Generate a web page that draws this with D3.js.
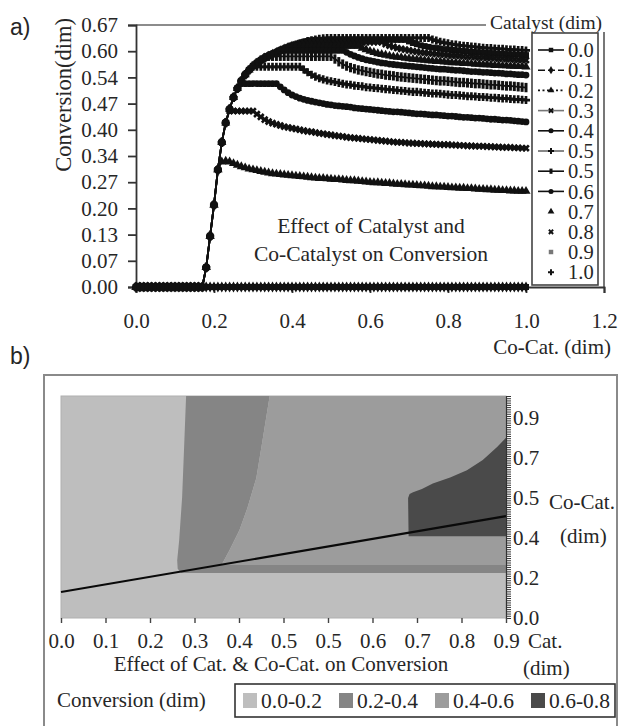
<!DOCTYPE html>
<html>
<head>
<meta charset="utf-8">
<script src="https://cdn.jsdelivr.net/npm/d3@7"></script>
<style>
  body { margin: 0; background: #fff; }
  svg { display: block; }
  svg text { font-family: "Liberation Serif", "Times New Roman", Times, "DejaVu Serif", serif; fill: #262626; }
  svg text.sans { font-family: "Liberation Sans", Arial, sans-serif; }
</style>
</head>
<body>
<svg id="chart" width="620" height="726"></svg>
<script>
// ---------- panel a) conversion vs co-catalyst, one series per catalyst level ----------
const coCat = [
  0,0.01,0.02,0.03,0.04,0.05,0.06,0.07,0.08,0.09,
  0.1,0.11,0.12,0.13,0.14,0.15,0.16,0.17,0.18,0.19,
  0.2,0.21,0.22,0.23,0.24,0.25,0.26,0.27,0.28,0.29,
  0.3,0.31,0.32,0.33,0.34,0.35,0.36,0.37,0.38,0.39,
  0.4,0.41,0.42,0.43,0.44,0.45,0.46,0.47,0.48,0.49,
  0.5,0.51,0.52,0.53,0.54,0.55,0.56,0.57,0.58,0.59,
  0.6,0.61,0.62,0.63,0.64,0.65,0.66,0.67,0.68,0.69,
  0.7,0.71,0.72,0.73,0.74,0.75,0.76,0.77,0.78,0.79,
  0.8,0.81,0.82,0.83,0.84,0.85,0.86,0.87,0.88,0.89,
  0.9,0.91,0.92,0.93,0.94,0.95,0.96,0.97,0.98,0.99,
  1
];

const catalystLabels = ["0.0","0.1","0.2","0.3","0.4","0.5","0.5","0.6","0.7","0.8","0.9","1.0"];

const conv00 = [
  0,0,0,0,0,0,0,0,0,0, 0,0,0,0,0,0,0,0,0,0, 0,0,0,0,0,0,0,0,0,0, 0,0,0,0,0,0,0,0,0,0,
  0,0,0,0,0,0,0,0,0,0, 0,0,0,0,0,0,0,0,0,0, 0,0,0,0,0,0,0,0,0,0, 0,0,0,0,0,0,0,0,0,0,
  0,0,0,0,0,0,0,0,0,0, 0,0,0,0,0,0,0,0,0,0, 0
];
const conv01 = [
  0,0,0,0,0,0,0,0,0,0, 0,0,0,0,0,0,0,0,0,0, 0,0,0,0,0,0,0,0,0,0, 0,0,0,0,0,0,0,0,0,0,
  0,0,0,0,0,0,0,0,0,0, 0,0,0,0,0,0,0,0,0,0, 0,0,0,0,0,0,0,0,0,0, 0,0,0,0,0,0,0,0,0,0,
  0,0,0,0,0,0,0,0,0,0, 0,0,0,0,0,0,0,0,0,0, 0
];
const conv02 = [
  0,0,0,0,0,0,0,0,0,0,
  0,0,0,0,0,0,0,0,0.05,0.13,
  0.21,0.30,0.32,0.322,0.32,0.316,0.312,0.308,0.305,0.302,
  0.300,0.298,0.296,0.294,0.292,0.290,0.289,0.288,0.287,0.286,
  0.285,0.284,0.283,0.282,0.281,0.280,0.279,0.278,0.278,0.277,
  0.276,0.275,0.275,0.274,0.273,0.272,0.272,0.271,0.270,0.269,
  0.268,0.267,0.267,0.266,0.265,0.265,0.264,0.263,0.263,0.262,
  0.261,0.261,0.260,0.259,0.259,0.258,0.257,0.257,0.256,0.256,
  0.255,0.254,0.254,0.253,0.253,0.252,0.252,0.251,0.250,0.250,
  0.249,0.249,0.248,0.248,0.247,0.247,0.246,0.246,0.245,0.245,
  0.245
];
const conv03 = [
  0,0,0,0,0,0,0,0,0,0,
  0,0,0,0,0,0,0,0,0.05,0.13,
  0.21,0.30,0.37,0.42,0.45,0.45,0.45,0.45,0.45,0.45,
  0.45,0.442,0.435,0.428,0.423,0.419,0.416,0.413,0.410,0.408,
  0.406,0.404,0.402,0.400,0.398,0.397,0.395,0.393,0.392,0.390,
  0.389,0.387,0.386,0.385,0.383,0.382,0.381,0.380,0.379,0.378,
  0.377,0.376,0.375,0.374,0.373,0.372,0.371,0.370,0.370,0.369,
  0.368,0.368,0.367,0.367,0.366,0.366,0.365,0.365,0.364,0.364,
  0.364,0.363,0.363,0.362,0.362,0.361,0.361,0.360,0.360,0.360,
  0.359,0.359,0.358,0.358,0.357,0.357,0.357,0.356,0.356,0.355,
  0.355
];
const conv04 = [
  0,0,0,0,0,0,0,0,0,0,
  0,0,0,0,0,0,0,0,0.05,0.13,
  0.21,0.30,0.37,0.42,0.455,0.485,0.508,0.52,0.52,0.52,
  0.52,0.52,0.52,0.52,0.52,0.52,0.52,0.512,0.504,0.497,
  0.491,0.487,0.483,0.480,0.477,0.475,0.473,0.471,0.469,0.467,
  0.466,0.464,0.463,0.462,0.461,0.460,0.458,0.457,0.456,0.455,
  0.454,0.453,0.452,0.451,0.450,0.449,0.448,0.448,0.447,0.446,
  0.445,0.444,0.443,0.443,0.442,0.441,0.440,0.440,0.439,0.438,
  0.437,0.437,0.436,0.435,0.434,0.434,0.433,0.432,0.432,0.431,
  0.430,0.429,0.429,0.428,0.427,0.427,0.426,0.425,0.424,0.423,
  0.422
];
const conv05 = [
  0,0,0,0,0,0,0,0,0,0,
  0,0,0,0,0,0,0,0,0.05,0.13,
  0.21,0.30,0.37,0.42,0.455,0.485,0.508,0.527,0.543,0.555,
  0.563,0.563,0.563,0.563,0.563,0.563,0.563,0.563,0.563,0.563,
  0.563,0.563,0.563,0.556,0.549,0.543,0.538,0.534,0.531,0.528,
  0.526,0.524,0.522,0.520,0.518,0.517,0.515,0.514,0.513,0.511,
  0.510,0.509,0.508,0.507,0.506,0.505,0.504,0.503,0.502,0.501,
  0.500,0.499,0.499,0.498,0.497,0.496,0.495,0.495,0.494,0.493,
  0.492,0.491,0.491,0.490,0.489,0.488,0.488,0.487,0.486,0.486,
  0.485,0.484,0.484,0.483,0.482,0.482,0.481,0.480,0.480,0.479,
  0.478
];
const conv05b = [
  0,0,0,0,0,0,0,0,0,0,
  0,0,0,0,0,0,0,0,0.05,0.13,
  0.21,0.30,0.37,0.42,0.455,0.485,0.508,0.527,0.543,0.555,
  0.565,0.573,0.58,0.586,0.59,0.59,0.59,0.59,0.59,0.59,
  0.59,0.59,0.59,0.59,0.59,0.59,0.59,0.59,0.59,0.59,
  0.59,0.583,0.576,0.570,0.565,0.561,0.558,0.555,0.553,0.551,
  0.549,0.547,0.545,0.544,0.542,0.541,0.540,0.538,0.537,0.536,
  0.535,0.534,0.533,0.532,0.531,0.530,0.529,0.528,0.527,0.527,
  0.526,0.525,0.524,0.523,0.523,0.522,0.521,0.520,0.520,0.519,
  0.518,0.517,0.517,0.516,0.515,0.514,0.514,0.513,0.512,0.511,
  0.510
];
const conv06 = [
  0,0,0,0,0,0,0,0,0,0,
  0,0,0,0,0,0,0,0,0.05,0.13,
  0.21,0.30,0.37,0.42,0.455,0.485,0.508,0.527,0.543,0.555,
  0.565,0.573,0.58,0.586,0.591,0.596,0.600,0.605,0.605,0.605,
  0.605,0.605,0.605,0.605,0.605,0.605,0.605,0.605,0.605,0.605,
  0.605,0.605,0.605,0.605,0.600,0.595,0.591,0.587,0.584,0.581,
  0.579,0.577,0.575,0.573,0.572,0.570,0.569,0.568,0.567,0.566,
  0.565,0.564,0.563,0.562,0.561,0.560,0.559,0.558,0.557,0.557,
  0.556,0.555,0.554,0.554,0.553,0.552,0.551,0.551,0.550,0.549,
  0.549,0.548,0.547,0.547,0.546,0.545,0.545,0.544,0.543,0.543,
  0.542
];
const conv07 = [
  0,0,0,0,0,0,0,0,0,0,
  0,0,0,0,0,0,0,0,0.05,0.13,
  0.21,0.30,0.37,0.42,0.455,0.485,0.508,0.527,0.543,0.555,
  0.565,0.573,0.58,0.586,0.591,0.596,0.600,0.605,0.609,0.613,
  0.616,0.616,0.616,0.616,0.616,0.616,0.616,0.616,0.616,0.616,
  0.616,0.616,0.616,0.616,0.616,0.616,0.616,0.616,0.611,0.607,
  0.603,0.600,0.597,0.595,0.593,0.591,0.589,0.588,0.587,0.585,
  0.584,0.583,0.582,0.581,0.580,0.579,0.578,0.577,0.577,0.576,
  0.575,0.574,0.574,0.573,0.572,0.572,0.571,0.570,0.570,0.569,
  0.569,0.568,0.567,0.567,0.566,0.566,0.565,0.565,0.564,0.564,
  0.563
];
const conv08 = [
  0,0,0,0,0,0,0,0,0,0,
  0,0,0,0,0,0,0,0,0.05,0.13,
  0.21,0.30,0.37,0.42,0.455,0.485,0.508,0.527,0.543,0.555,
  0.565,0.573,0.58,0.586,0.591,0.596,0.600,0.605,0.609,0.613,
  0.617,0.620,0.623,0.626,0.626,0.626,0.626,0.626,0.626,0.626,
  0.626,0.626,0.626,0.626,0.626,0.626,0.626,0.626,0.626,0.626,
  0.626,0.626,0.626,0.626,0.621,0.617,0.614,0.611,0.609,0.607,
  0.605,0.603,0.602,0.600,0.599,0.598,0.597,0.596,0.595,0.594,
  0.593,0.592,0.592,0.591,0.590,0.589,0.589,0.588,0.587,0.587,
  0.586,0.586,0.585,0.584,0.584,0.583,0.583,0.582,0.581,0.581,
  0.580
];
const conv09 = [
  0,0,0,0,0,0,0,0,0,0,
  0,0,0,0,0,0,0,0,0.05,0.13,
  0.21,0.30,0.37,0.42,0.455,0.485,0.508,0.527,0.543,0.555,
  0.565,0.573,0.58,0.586,0.591,0.596,0.600,0.605,0.609,0.613,
  0.617,0.620,0.623,0.626,0.629,0.631,0.632,0.632,0.632,0.632,
  0.632,0.632,0.632,0.632,0.632,0.632,0.632,0.632,0.632,0.632,
  0.632,0.632,0.632,0.632,0.632,0.632,0.632,0.632,0.632,0.632,
  0.628,0.624,0.621,0.618,0.616,0.614,0.612,0.611,0.609,0.608,
  0.607,0.606,0.605,0.604,0.603,0.602,0.601,0.600,0.600,0.599,
  0.598,0.598,0.597,0.596,0.596,0.595,0.595,0.594,0.594,0.593,
  0.593
];
const conv10 = [
  0,0,0,0,0,0,0,0,0,0,
  0,0,0,0,0,0,0,0,0.05,0.13,
  0.21,0.30,0.37,0.42,0.455,0.485,0.508,0.527,0.543,0.555,
  0.565,0.573,0.58,0.586,0.591,0.596,0.600,0.605,0.609,0.613,
  0.617,0.620,0.623,0.626,0.629,0.631,0.633,0.635,0.636,0.637,
  0.637,0.637,0.637,0.637,0.637,0.637,0.637,0.637,0.637,0.637,
  0.637,0.637,0.637,0.637,0.637,0.637,0.637,0.637,0.637,0.637,
  0.637,0.637,0.637,0.637,0.637,0.637,0.633,0.630,0.627,0.625,
  0.623,0.621,0.620,0.618,0.617,0.616,0.615,0.614,0.613,0.612,
  0.611,0.611,0.610,0.609,0.609,0.608,0.607,0.607,0.606,0.606,
  0.605
];

const conversionSeries = [conv00, conv01, conv02, conv03, conv04, conv05, conv05b, conv06, conv07, conv08, conv09, conv10];

const convTickValues = [0, 0.067, 0.134, 0.201, 0.268, 0.335, 0.402, 0.469, 0.536, 0.603, 0.67];
const convTickLabels = ["0.00","0.07","0.13","0.20","0.27","0.34","0.40","0.47","0.54","0.60","0.67"];
const coCatTickValues = [0, 0.2, 0.4, 0.6, 0.8, 1.0, 1.2];
const coCatTickLabels = ["0.0","0.2","0.4","0.6","0.8","1.0","1.2"];

// ---------- panel b) contour map of conversion over catalyst / co-catalyst ----------
const bandLabels = ["0.0-0.2", "0.2-0.4", "0.4-0.6", "0.6-0.8"];
// boundaries as [catalyst, co-catalyst] pairs
const band02_04 = [
  [0.253,1.0],[0.249,0.77],[0.245,0.545],[0.239,0.35],[0.235,0.26],[0.236,0.222],[0.243,0.203],
  [0.9,0.203],[0.9,0.239],[0.324,0.239],[0.328,0.252],[0.341,0.306],[0.361,0.396],
  [0.377,0.495],[0.395,0.631],[0.407,0.793],[0.422,1.0]
];
const band04_06 = [
  [0.422,1.0],[0.407,0.793],[0.395,0.631],[0.377,0.495],[0.361,0.396],[0.341,0.306],
  [0.328,0.252],[0.324,0.239],[0.9,0.239],[0.9,1.0]
];
const band06_08 = [
  [0.703,0.368],[0.702,0.54],[0.705,0.558],[0.712,0.567],[0.730,0.581],[0.752,0.606],
  [0.787,0.633],[0.821,0.665],[0.853,0.712],[0.882,0.770],[0.9,0.812],[0.9,0.368]
];
const operatingLineCat = [0, 0.9];
const operatingLineCoCat = [0.117, 0.459];

const catTickValues = [0, 0.09, 0.18, 0.27, 0.36, 0.45, 0.54, 0.63, 0.72, 0.81, 0.9];
const catTickLabels = ["0.0","0.1","0.2","0.3","0.4","0.5","0.5","0.6","0.7","0.8","0.9"];
const coCatMapTickValues = [0, 0.18, 0.36, 0.54, 0.72, 0.9];
const coCatMapTickLabels = ["0.0","0.2","0.4","0.5","0.7","0.9"];

// ---------- drawing ----------
const svg = d3.select("#chart");
const ink = "#262626";

// marker / line style per catalyst level
const seriesStyle = [
  { sym: d3.symbolSquare,   rot: 0,  line: "solid" },
  { sym: d3.symbolDiamond,  rot: 0,  line: "dash" },
  { sym: d3.symbolTriangle, rot: 0,  line: "dot" },
  { sym: d3.symbolCross,    rot: 45, line: "gray" },
  { sym: d3.symbolCircle,   rot: 0,  line: "solid" },
  { sym: d3.symbolCross,    rot: 0,  line: "thin" },
  { sym: "bar",             rot: 0,  line: "solid" },
  { sym: d3.symbolCircle,   rot: 0,  line: "solid" },
  { sym: d3.symbolTriangle, rot: 0,  line: null },
  { sym: d3.symbolCross,    rot: 45, line: null },
  { sym: d3.symbolSquare,   rot: 0,  line: null, open: true },
  { sym: d3.symbolCross,    rot: 0,  line: null }
];

function drawMarker(g, st, x, y, size, color, inPlot) {
  if (st.sym === "bar") {
    g.append("rect").attr("x", x - 1.5).attr("y", y - size * 0.13).attr("width", 3).attr("height", size * 0.26)
      .attr("fill", color);
    return;
  }
  g.append("path")
    .attr("d", d3.symbol().type(st.sym).size(size)())
    .attr("transform", `translate(${x},${y}) rotate(${st.rot})`)
    .attr("fill", st.open && !inPlot ? "#777" : color);
}

function lineAttrs(sel, kind) {
  sel.attr("fill", "none").attr("stroke", kind === "gray" ? "#777" : "#111")
    .attr("stroke-width", kind === "thin" ? 1 : 1.6);
  if (kind === "dash") sel.attr("stroke-dasharray", "7,3");
  if (kind === "dot") sel.attr("stroke-dasharray", "2,2.5");
}

// panel labels
svg.append("text").attr("class", "sans").attr("x", 10).attr("y", 35).style("font-size", "23px").text("a)");
svg.append("text").attr("class", "sans").attr("x", 10).attr("y", 364).style("font-size", "23px").text("b)");

// ---- panel a ----
const xA = d3.scaleLinear().domain([0, 1.2]).range([136, 604]);
const yA = d3.scaleLinear().domain([0, 0.67]).range([287, 25]);

// frame top / right
svg.append("line").attr("x1", xA(0)).attr("x2", xA(1.2)).attr("y1", yA(0.67)).attr("y2", yA(0.67))
  .attr("stroke", "#666").attr("stroke-width", 1.6);
svg.append("line").attr("x1", xA(1.2)).attr("x2", xA(1.2)).attr("y1", yA(0.67)).attr("y2", yA(0))
  .attr("stroke", "#555").attr("stroke-width", 1.6);

const axY = svg.append("g").attr("transform", `translate(${xA(0)},0)`)
  .call(d3.axisLeft(yA).tickValues(convTickValues).tickFormat((d, i) => convTickLabels[i])
    .tickSize(8).tickPadding(10));
const axX = svg.append("g").attr("transform", `translate(0,${yA(0)})`)
  .call(d3.axisBottom(xA).tickValues(coCatTickValues).tickFormat((d, i) => coCatTickLabels[i])
    .tickSize(6).tickPadding(20));
[axY, axX].forEach(a => {
  a.attr("font-family", null).attr("font-size", null);
  a.selectAll("path, line").attr("stroke", "#333").attr("stroke-width", 1.8);
  a.selectAll("text").style("font-size", "21px").attr("fill", ink);
});

// series
const plotA = svg.append("g");
for (let i = conversionSeries.length - 1; i >= 0; i--) {
  const vals = conversionSeries[i];
  const st = seriesStyle[i];
  const pts = coCat.map((c, j) => [xA(c), yA(vals[j])]);
  if (st.line) {
    plotA.append("path").attr("d", d3.line()(pts)).attr("fill", "none")
      .attr("stroke", "#111").attr("stroke-width", 1.8);
  }
  const mg = plotA.append("g");
  pts.forEach(p => drawMarker(mg, st, p[0], p[1], 36, "#111", true));
}

// plot annotation
svg.append("text").attr("x", 371).attr("y", 233).attr("text-anchor", "middle")
  .style("font-size", "21.5px").text("Effect of Catalyst and");
svg.append("text").attr("x", 371).attr("y", 261).attr("text-anchor", "middle")
  .style("font-size", "21.5px").text("Co-Catalyst on Conversion");

// axis titles
svg.append("text").attr("transform", "translate(71,95) rotate(-90)").attr("text-anchor", "middle")
  .style("font-size", "22.5px").text("Conversion(dim)");
svg.append("text").attr("x", 611).attr("y", 354).attr("text-anchor", "end")
  .style("font-size", "21px").text("Co-Cat. (dim)");

// legend
svg.append("rect").attr("x", 486).attr("y", 12).attr("width", 120).attr("height", 20).attr("fill", "#fff");
svg.append("text").attr("x", 490).attr("y", 29).style("font-size", "19.5px").text("Catalyst (dim)");
svg.append("rect").attr("x", 532).attr("y", 33).attr("width", 66).attr("height", 252)
  .attr("fill", "#fff").attr("stroke", "#444").attr("stroke-width", 1.6);
const leg = svg.append("g");
catalystLabels.forEach((lab, i) => {
  const y = 50 + i * 20.2;
  const st = seriesStyle[i];
  if (st.line) {
    leg.append("line").attr("x1", 538).attr("x2", 564).attr("y1", y).attr("y2", y).call(lineAttrs, st.line);
  }
  drawMarker(leg, st, 551, y, 20, "#111", false);
  leg.append("text").attr("x", 568).attr("y", y).attr("dy", "0.35em").style("font-size", "20.5px").text(lab);
});

// ---- panel b ----
svg.append("rect").attr("x", 44).attr("y", 375).attr("width", 573).attr("height", 380)
  .attr("fill", "none").attr("stroke", "#8a8a8a").attr("stroke-width", 2);

const xB = d3.scaleLinear().domain([0, 0.9]).range([61, 506]);
const yB = d3.scaleLinear().domain([0, 1]).range([618, 396]);
const bandColors = ["#bebebe", "#858585", "#9c9c9c", "#4a4a4a"];

svg.append("rect").attr("x", xB(0)).attr("y", yB(1)).attr("width", xB(0.9) - xB(0)).attr("height", yB(0) - yB(1))
  .attr("fill", bandColors[0]).attr("stroke", "#b0b0b0").attr("stroke-width", 1);
const poly = d3.line().x(d => xB(d[0])).y(d => yB(d[1]));
svg.append("path").attr("d", poly(band02_04) + "Z").attr("fill", bandColors[1]);
svg.append("path").attr("d", poly(band04_06) + "Z").attr("fill", bandColors[2]);
svg.append("path").attr("d", poly(band06_08) + "Z").attr("fill", bandColors[3]);

svg.append("path")
  .attr("d", poly(operatingLineCat.map((c, i) => [c, operatingLineCoCat[i]])))
  .attr("stroke", "#0a0a0a").attr("stroke-width", 2.2).attr("fill", "none");

// right axis: dense ruler ticks plus labelled values
const rulerTicks = d3.range(0, 101).map(k => k / 100);
const axR = svg.append("g").attr("transform", `translate(${xB(0.9)},0)`)
  .call(d3.axisRight(yB).tickValues(rulerTicks).tickSize(5).tickFormat(""));
axR.selectAll("line").attr("stroke", "#333").attr("stroke-width", 1);
axR.select(".domain").attr("stroke", "#333").attr("stroke-width", 1.2);
const axRL = svg.append("g").attr("transform", `translate(${xB(0.9)},0)`)
  .call(d3.axisRight(yB).tickValues(coCatMapTickValues).tickFormat((d, i) => coCatMapTickLabels[i])
    .tickSize(0).tickPadding(7));
axRL.select(".domain").remove();
axRL.attr("font-family", null).attr("font-size", null);
axRL.selectAll("text").style("font-size", "21px").attr("fill", ink);

const axB = svg.append("g").attr("transform", `translate(0,${yB(0)})`)
  .call(d3.axisBottom(xB).tickValues(catTickValues).tickFormat((d, i) => catTickLabels[i])
    .tickSize(5).tickPadding(10));
axB.select(".domain").remove();
axB.attr("font-family", null).attr("font-size", null);
axB.selectAll("line").attr("stroke", "#444").attr("stroke-width", 1.4);
axB.selectAll("text").style("font-size", "21px").attr("fill", ink);

svg.append("text").attr("x", 549).attr("y", 509).style("font-size", "21px").text("Co-Cat.");
svg.append("text").attr("x", 560).attr("y", 543).style("font-size", "21px").text("(dim)");
svg.append("text").attr("x", 528).attr("y", 648).style("font-size", "21px").text("Cat.");
svg.append("text").attr("x", 523).attr("y", 675).style("font-size", "21px").text("(dim)");
svg.append("text").attr("x", 281).attr("y", 671).attr("text-anchor", "middle")
  .style("font-size", "21px").text("Effect of Cat. & Co-Cat. on Conversion");

// contour legend
svg.append("text").attr("x", 57).attr("y", 707).style("font-size", "21px").text("Conversion (dim)");
svg.append("rect").attr("x", 235).attr("y", 684).attr("width", 380).attr("height", 33)
  .attr("fill", "#fff").attr("stroke", "#333").attr("stroke-width", 1.6);
bandLabels.forEach((lab, i) => {
  const x0 = 243 + i * 96;
  svg.append("rect").attr("x", x0).attr("y", 693).attr("width", 14).attr("height", 15).attr("fill", bandColors[i]);
  svg.append("text").attr("x", x0 + 18).attr("y", 708).style("font-size", "21.5px").text(lab);
});
</script>
</body>
</html>
